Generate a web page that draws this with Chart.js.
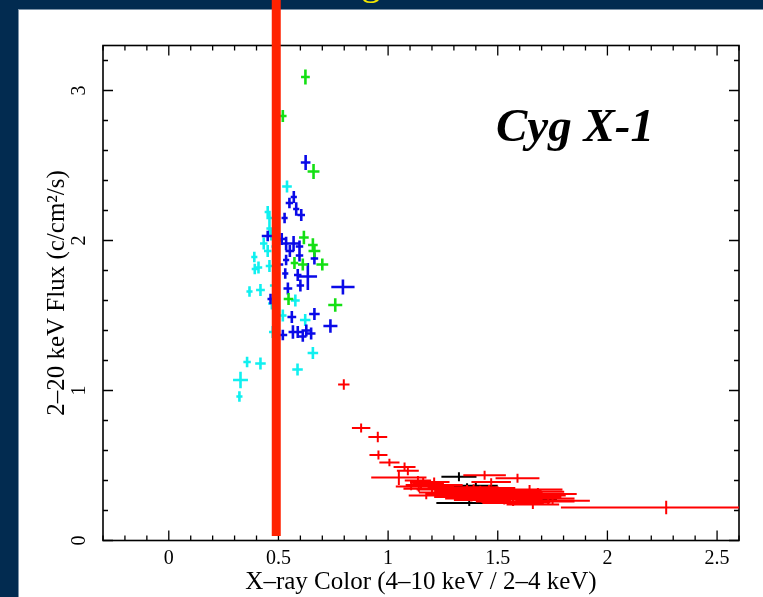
<!DOCTYPE html>
<html>
<head>
<meta charset="utf-8">
<title>Cyg X-1</title>
<script src="https://cdn.jsdelivr.net/npm/chart.js@4.4.1/dist/chart.umd.min.js"></script>
<style>
  html, body { margin: 0; padding: 0; background: #022b50; }
  canvas { display: block; }
</style>
</head>
<body>
<canvas id="hid" width="763" height="597"></canvas>
<script>
// each row: colour, flux, colour error, flux error
const cyanPoints = [
    [0.539, 2.36, 0.022, 0.040], [0.451, 2.19, 0.014, 0.040], [0.459, 2.15, 0.014, 0.040],
    [0.467, 2.04, 0.014, 0.040], [0.459, 2.08, 0.014, 0.035], [0.433, 1.98, 0.017, 0.040],
    [0.451, 1.93, 0.017, 0.040], [0.390, 1.89, 0.014, 0.035], [0.459, 1.83, 0.017, 0.040],
    [0.409, 1.82, 0.017, 0.040], [0.392, 1.81, 0.014, 0.035], [0.368, 1.66, 0.014, 0.035],
    [0.418, 1.67, 0.020, 0.040], [0.478, 1.70, 0.017, 0.040], [0.577, 1.60, 0.020, 0.040],
    [0.520, 1.50, 0.017, 0.040], [0.622, 1.47, 0.024, 0.040], [0.474, 1.39, 0.017, 0.040],
    [0.657, 1.25, 0.024, 0.040], [0.357, 1.19, 0.017, 0.035], [0.418, 1.18, 0.024, 0.040],
    [0.490, 1.23, 0.017, 0.035], [0.587, 1.14, 0.024, 0.040], [0.327, 1.07, 0.034, 0.055],
    [0.322, 0.96, 0.014, 0.035], [0.485, 1.96, 0.017, 0.040], [0.470, 1.58, 0.017, 0.040]
];
const bluePoints = [
    [0.624, 2.52, 0.022, 0.050], [0.570, 2.29, 0.014, 0.040], [0.550, 2.25, 0.017, 0.035],
    [0.581, 2.21, 0.014, 0.045], [0.604, 2.17, 0.017, 0.040], [0.528, 2.15, 0.014, 0.035],
    [0.451, 2.03, 0.027, 0.035], [0.495, 2.00, 0.022, 0.040], [0.535, 1.98, 0.020, 0.045],
    [0.569, 1.98, 0.024, 0.050], [0.596, 1.96, 0.017, 0.040], [0.596, 1.90, 0.017, 0.040],
    [0.535, 1.87, 0.014, 0.035], [0.664, 1.88, 0.017, 0.040], [0.500, 1.84, 0.022, 0.040],
    [0.531, 1.78, 0.014, 0.035], [0.588, 1.77, 0.017, 0.040], [0.634, 1.76, 0.042, 0.090],
    [0.464, 1.61, 0.014, 0.035], [0.543, 1.68, 0.020, 0.040], [0.600, 1.70, 0.017, 0.040],
    [0.794, 1.69, 0.053, 0.050], [0.561, 1.49, 0.020, 0.040], [0.664, 1.51, 0.024, 0.040],
    [0.737, 1.43, 0.032, 0.045], [0.566, 1.39, 0.020, 0.045], [0.588, 1.39, 0.020, 0.040],
    [0.627, 1.40, 0.022, 0.040], [0.649, 1.38, 0.020, 0.040], [0.611, 1.36, 0.017, 0.035],
    [0.520, 1.37, 0.020, 0.035], [0.552, 1.93, 0.020, 0.040], [0.515, 2.01, 0.017, 0.040]
];
const greenPoints = [
    [0.623, 3.09, 0.020, 0.050], [0.520, 2.83, 0.017, 0.040], [0.660, 2.46, 0.027, 0.050],
    [0.616, 2.02, 0.022, 0.045], [0.657, 1.97, 0.022, 0.045], [0.664, 1.93, 0.027, 0.040],
    [0.611, 1.84, 0.022, 0.040], [0.700, 1.84, 0.027, 0.040], [0.573, 1.85, 0.017, 0.040],
    [0.546, 1.61, 0.022, 0.040], [0.759, 1.57, 0.032, 0.045]
];
const blackPoints = [
    [1.323, 0.425, 0.080, 0.030], [1.360, 0.357, 0.130, 0.025], [1.400, 0.365, 0.100, 0.025],
    [1.630, 0.277, 0.140, 0.020], [1.370, 0.250, 0.150, 0.020], [1.550, 0.300, 0.100, 0.025],
    [1.300, 0.330, 0.080, 0.020], [1.450, 0.320, 0.100, 0.020], [1.680, 0.290, 0.080, 0.020]
];
const redPoints = [
    [0.798, 1.04, 0.026, 0.035], [0.877, 0.75, 0.042, 0.030], [0.953, 0.69, 0.043, 0.035],
    [0.956, 0.57, 0.041, 0.030], [1.006, 0.52, 0.046, 0.025], [1.075, 0.49, 0.050, 0.030],
    [1.090, 0.465, 0.050, 0.030], [1.049, 0.42, 0.126, 0.050], [1.136, 0.40, 0.060, 0.030],
    [1.160, 0.39, 0.060, 0.025], [1.210, 0.39, 0.070, 0.030], [1.105, 0.36, 0.070, 0.025],
    [1.140, 0.345, 0.070, 0.020], [1.174, 0.30, 0.080, 0.025], [1.440, 0.435, 0.097, 0.030],
    [1.590, 0.415, 0.100, 0.030], [1.470, 0.39, 0.090, 0.025], [1.645, 0.34, 0.150, 0.030],
    [1.683, 0.325, 0.120, 0.025], [1.660, 0.24, 0.120, 0.030], [2.268, 0.22, 0.480, 0.045],
    [1.180, 0.38, 0.070, 0.025], [1.220, 0.36, 0.080, 0.025], [1.250, 0.37, 0.090, 0.020],
    [1.280, 0.35, 0.100, 0.025], [1.300, 0.34, 0.120, 0.020], [1.330, 0.33, 0.120, 0.025],
    [1.360, 0.35, 0.100, 0.020], [1.390, 0.33, 0.120, 0.020], [1.420, 0.34, 0.130, 0.025],
    [1.450, 0.33, 0.100, 0.020], [1.480, 0.32, 0.120, 0.025], [1.500, 0.34, 0.140, 0.020],
    [1.520, 0.31, 0.120, 0.025], [1.550, 0.33, 0.150, 0.020], [1.580, 0.30, 0.130, 0.025],
    [1.620, 0.31, 0.120, 0.020], [1.650, 0.29, 0.140, 0.020], [1.700, 0.28, 0.150, 0.020],
    [1.730, 0.26, 0.120, 0.020], [1.270, 0.31, 0.100, 0.020], [1.320, 0.29, 0.110, 0.020],
    [1.380, 0.28, 0.120, 0.020], [1.430, 0.27, 0.130, 0.020], [1.480, 0.28, 0.150, 0.025],
    [1.530, 0.26, 0.130, 0.020], [1.570, 0.25, 0.140, 0.020], [1.620, 0.255, 0.120, 0.020],
    [1.230, 0.32, 0.090, 0.020], [1.200, 0.34, 0.070, 0.020], [1.410, 0.31, 0.120, 0.020],
    [1.350, 0.31, 0.110, 0.025], [1.700, 0.31, 0.160, 0.020], [1.750, 0.265, 0.170, 0.020],
    [1.260, 0.345, 0.110, 0.020], [1.340, 0.32, 0.130, 0.020], [1.440, 0.30, 0.140, 0.025],
    [1.510, 0.29, 0.150, 0.020], [1.600, 0.28, 0.150, 0.020], [1.460, 0.35, 0.120, 0.020],
    [1.560, 0.32, 0.140, 0.025], [1.290, 0.30, 0.120, 0.020], [1.390, 0.355, 0.110, 0.020],
    [1.680, 0.30, 0.130, 0.020], [1.540, 0.275, 0.160, 0.020], [1.150, 0.37, 0.070, 0.025]
];

const xTicks = [0, 0.5, 1, 1.5, 2, 2.5];
const yTicks = [0, 1, 2, 3];
const xRange = [-0.3, 2.6];
const yRange = [0, 3.3];

// thick vertical marker: colour value, and flux span it covers
const markerColour = 0.49;
const markerSpan = [0.03, 3.62];

const serif = 'Liberation Serif';

function series(rows, colour, width) {
    return {
        data: rows.map(([x, y, dx, dy]) => ({ x, y, dx, dy })),
        borderColor: colour,
        backgroundColor: colour,
        crossWidth: width,
        pointRadius: 0,
        showLine: false
    };
}

// background slide + the title that runs off the top edge
const slide = {
    id: 'slide',
    beforeDraw(chart) {
        const { ctx, width, height } = chart;
        ctx.save();
        ctx.fillStyle = '#022b50';
        ctx.fillRect(0, 0, width, height);
        ctx.fillStyle = '#ffffff';
        ctx.fillRect(18, 10, width - 18, height - 10);
        ctx.strokeStyle = '#7d93a8';
        ctx.lineWidth = 1;
        ctx.strokeRect(18.5, 9.5, width, height);

        ctx.font = `40px "${serif}"`;
        ctx.fillStyle = '#f2e600';
        const title = 'State Changes';
        const gAt = title.indexOf('g');
        const before = ctx.measureText(title.slice(0, gAt)).width;
        const gWidth = ctx.measureText('g').width;
        ctx.textBaseline = 'alphabetic';
        ctx.fillText(title, 371 - before - gWidth / 2, -6);
        ctx.restore();
    }
};

// box with inward major/minor ticks on all four sides
const frame = {
    id: 'frame',
    beforeDatasetsDraw(chart) {
        const { ctx, chartArea: a, scales: { x, y } } = chart;
        ctx.save();
        ctx.strokeStyle = '#000';
        ctx.lineWidth = 1.6;
        ctx.strokeRect(a.left, a.top, a.right - a.left, a.bottom - a.top);
        ctx.lineWidth = 1.3;
        ctx.beginPath();
        for (let i = -3; i <= 26; i++) {
            const px = x.getPixelForValue(i / 10);
            const len = i % 5 === 0 ? 10 : 5;
            ctx.moveTo(px, a.bottom); ctx.lineTo(px, a.bottom - len);
            ctx.moveTo(px, a.top); ctx.lineTo(px, a.top + len);
        }
        for (let i = 0; i <= 16; i++) {
            const py = y.getPixelForValue(i / 5);
            const len = i % 5 === 0 ? 10 : 5;
            ctx.moveTo(a.left, py); ctx.lineTo(a.left + len, py);
            ctx.moveTo(a.right, py); ctx.lineTo(a.right - len, py);
        }
        ctx.stroke();

        ctx.font = `bold italic 47px "${serif}"`;
        ctx.fillStyle = '#000';
        ctx.textBaseline = 'alphabetic';
        ctx.fillText('Cyg X-1', 496, 141);
        ctx.restore();
    }
};

// error-bar crosses for every scatter point
const crossBars = {
    id: 'crossBars',
    afterDatasetDraw(chart, args) {
        const ds = chart.data.datasets[args.index];
        if (!ds.crossWidth) return;
        const { ctx, chartArea: a, scales: { x, y } } = chart;
        ctx.save();
        ctx.beginPath();
        ctx.rect(a.left, a.top, a.right - a.left, a.bottom - a.top);
        ctx.clip();
        ctx.strokeStyle = ds.borderColor;
        ctx.lineWidth = ds.crossWidth;
        ctx.beginPath();
        ds.data.forEach(p => {
            const px = x.getPixelForValue(p.x);
            const py = y.getPixelForValue(p.y);
            ctx.moveTo(x.getPixelForValue(p.x - p.dx), py);
            ctx.lineTo(x.getPixelForValue(p.x + p.dx), py);
            ctx.moveTo(px, y.getPixelForValue(p.y - p.dy));
            ctx.lineTo(px, y.getPixelForValue(p.y + p.dy));
        });
        ctx.stroke();
        ctx.restore();
    }
};

const tickFont = { family: serif, size: 20 };
const titleFont = { family: serif, size: 25 };

new Chart(document.getElementById('hid'), {
    type: 'scatter',
    data: {
        datasets: [
            {
                type: 'line',
                data: markerSpan.map(y => ({ x: markerColour, y })),
                borderColor: '#ff2200',
                borderWidth: 9,
                borderCapStyle: 'butt',
                pointRadius: 0,
                showLine: true,
                clip: false
            },
            series(redPoints, '#ff0000', 2),
            series(blackPoints, '#000000', 2),
            series(greenPoints, '#14e014', 2.6),
            series(bluePoints, '#0a0ae8', 2.6),
            series(cyanPoints, '#10f0f0', 2.6)
        ]
    },
    options: {
        responsive: false,
        animation: false,
        events: [],
        layout: { padding: { top: 45.5, right: 24, bottom: 0, left: 0 } },
        plugins: {
            legend: { display: false },
            tooltip: { enabled: false }
        },
        scales: {
            x: {
                type: 'linear',
                min: xRange[0],
                max: xRange[1],
                afterBuildTicks: s => { s.ticks = xTicks.map(value => ({ value })); },
                afterFit: s => { s.height = 56.5; },
                grid: { display: false, drawTicks: false },
                border: { display: false },
                ticks: {
                    color: '#000',
                    font: tickFont,
                    padding: 6,
                    maxRotation: 0,
                    callback: v => String(v)
                },
                title: {
                    display: true,
                    text: 'X\u2013ray Color (4\u201310 keV / 2\u20134 keV)',
                    color: '#000',
                    font: titleFont,
                    padding: { top: 0, bottom: 0 }
                }
            },
            y: {
                type: 'linear',
                min: yRange[0],
                max: yRange[1],
                afterBuildTicks: s => { s.ticks = yTicks.map(value => ({ value })); },
                afterFit: s => { s.width = 103; },
                grid: { display: false, drawTicks: false },
                border: { display: false },
                ticks: {
                    color: '#000',
                    font: tickFont,
                    padding: 18,
                    minRotation: 90,
                    maxRotation: 90,
                    crossAlign: 'center',
                    callback: v => String(v)
                },
                title: {
                    display: true,
                    text: '2\u201320 keV Flux (c/cm\u00b2/s)',
                    color: '#000',
                    font: titleFont,
                    padding: { top: 42, bottom: 0 }
                }
            }
        }
    },
    plugins: [slide, frame, crossBars]
});
</script>
</body>
</html>
